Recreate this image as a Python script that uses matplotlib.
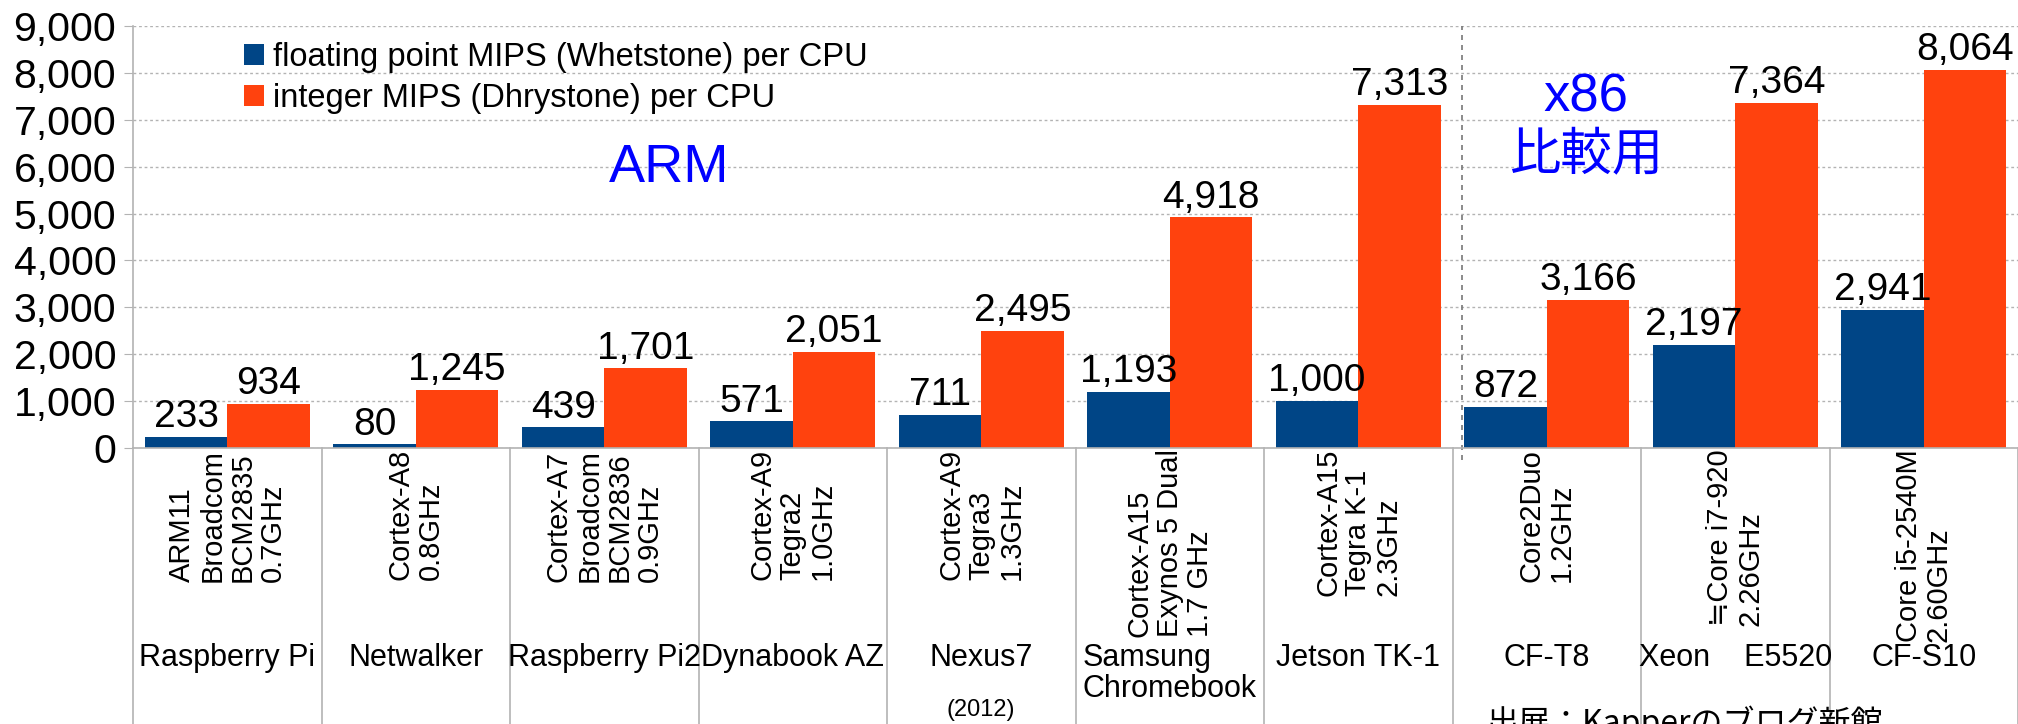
import matplotlib
matplotlib.use('Agg')
import matplotlib.pyplot as plt
import matplotlib.transforms as mtransforms
from matplotlib.ticker import MultipleLocator, FuncFormatter
import numpy as np

plt.rcParams['font.family'] = ['Liberation Sans', 'DejaVu Sans', 'Noto Sans CJK JP']

# data
devices = ['Raspberry Pi', 'Netwalker', 'Raspberry Pi2', 'Dynabook AZ', 'Nexus7',
           'Samsung\nChromebook', 'Jetson TK-1', 'CF-T8', 'Xeon    E5520', 'CF-S10']
cpus = ['ARM11\nBroadcom\nBCM2835\n0.7GHz',
        'Cortex-A8\n0.8GHz',
        'Cortex-A7\nBroadcom\nBCM2836\n0.9GHz',
        'Cortex-A9\nTegra2\n1.0GHz',
        'Cortex-A9\nTegra3\n1.3GHz',
        'Cortex-A15\nExynos 5 Dual\n1.7 GHz',
        'Cortex-A15\nTegra K-1\n2.3GHz',
        'Core2Duo\n1.2GHz',
        '≒Core i7-920\n2.26GHz',
        'Core i5-2540M\n2.60GHz']
whetstone = [233, 80, 439, 571, 711, 1193, 1000, 872, 2197, 2941]
dhrystone = [934, 1245, 1701, 2051, 2495, 4918, 7313, 3166, 7364, 8064]
series_names = ['floating point MIPS (Whetstone) per CPU', 'integer MIPS (Dhrystone) per CPU']

blue = '#004586'
orange = '#ff420e'
grey = '#b3b3b3'

W, H = 2018, 724
fig = plt.figure(figsize=(W / 100, H / 100), dpi=100)
ax = fig.add_axes([133 / W, 276 / H, 1 - 133 / W, (448 - 26) / H])

x = np.arange(len(devices))
w = 0.437
b1 = ax.bar(x - w / 2, whetstone, w, color=blue, label=series_names[0], zorder=2)
b2 = ax.bar(x + w / 2, dhrystone, w, color=orange, label=series_names[1], zorder=2)

for bars, vals in ((b1, whetstone), (b2, dhrystone)):
    for r, v in zip(bars, vals):
        ax.annotate(f'{v:,}', (r.get_x() + r.get_width() / 2, v), xytext=(0, 7),
                    textcoords='offset points', ha='center', va='baseline',
                    fontsize=28, zorder=3)

ax.set_xlim(-0.5, 9.5)
ax.set_ylim(0, 9000)
ax.yaxis.set_major_locator(MultipleLocator(1000))
ax.yaxis.set_major_formatter(FuncFormatter(lambda v, p: f'{int(v):,}'))
ax.set_xticks([])
ax.tick_params(axis='y', direction='out', length=6.5, color=grey, labelsize=29.5, pad=5.5)
ax.grid(axis='y', color=grey, linestyle=(0, (2, 2)), linewidth=1)
ax.set_axisbelow(True)
for s in ('top', 'right'):
    ax.spines[s].set_visible(False)
for s in ('left', 'bottom'):
    ax.spines[s].set_color(grey)
    ax.spines[s].set_linewidth(1.2)

# ARM / x86 divider
ax.plot([6.55, 6.55], [-250, 9000], color='#777777', lw=1.2, linestyle=(0, (3, 3)),
        clip_on=False, zorder=1)

# category table under the axis
trans = mtransforms.blended_transform_factory(ax.transData, fig.transFigure)
for b in np.arange(-0.5, 9.6, 1.0):
    ax.plot([b, b], [0, 276 / H], transform=trans, color=grey, lw=1.2, clip_on=False)

for i in x:
    ax.text(i, (H - 449) / H, cpus[i], transform=trans, rotation=90,
            ha='center', va='top', multialignment='left', fontsize=21, linespacing=1.1)
    ax.text(i, (H - 643) / H, devices[i], transform=trans, ha='center', va='top',
            multialignment='left', fontsize=22, linespacing=1.05)
ax.text(4, (H - 710) / H, '(2012)', transform=trans, ha='center', va='center', fontsize=17)

fig.text(1486 / W, (H - 733) / H, '出展：Kapperのブログ新館', fontsize=23,
         family=['Noto Sans CJK JP'], ha='left', va='baseline')

# region labels
fig.text(669 / W, 1 - 168 / H, 'ARM', color='blue', fontsize=39, ha='center', va='center')
fig.text(1586 / W, 1 - 98 / H, 'x86', color='blue', fontsize=38, ha='center', va='center')
fig.text(1586 / W, 1 - 156 / H, '比較用', color='blue', fontsize=37, ha='center', va='center',
         family=['Noto Sans CJK JP'])

ax.legend(loc='upper left', bbox_to_anchor=(244 / W, 1 - 42 / H), bbox_transform=fig.transFigure,
          frameon=False, fontsize=23.5, handlelength=0.6, handleheight=0.6, handletextpad=0.3,
          labelspacing=0.3, borderpad=0, borderaxespad=0)

fig.savefig('out.png', dpi=100)
